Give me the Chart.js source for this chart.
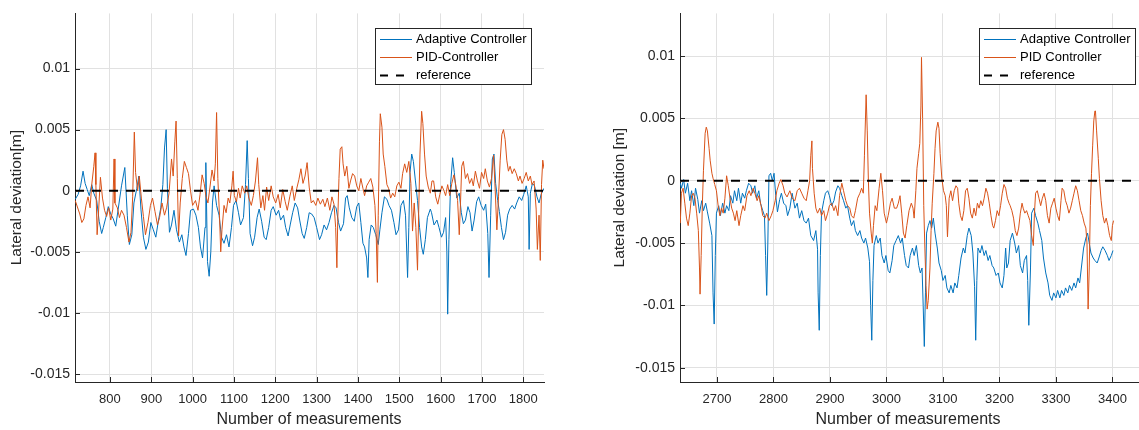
<!DOCTYPE html>
<html>
<head>
<meta charset="utf-8">
<script src="https://cdn.jsdelivr.net/npm/chart.js@4/dist/chart.umd.min.js"></script>
<style>
  html, body { margin: 0; padding: 0; background: #fff; }
  #wrap { position: relative; width: 1139px; height: 430px; overflow: hidden; background: #fff; }
  #wrap canvas { position: absolute; top: 0; }
  #leftPlot { left: 0; }
  #rightPlot { left: 570px; }
</style>
</head>
<body>
<div id="wrap">
  <canvas id="leftPlot" width="570" height="430"></canvas>
  <canvas id="rightPlot" width="580" height="430"></canvas>
</div>
<script>
// ---- measurement data: [measurement index, lateral deviation in m] ----

// first run (measurements ~715-1850)
const adaptiveRun1 = [
  [716,-0.0007],[723,-0.0003],[729,0.0004],[735,0.0016],[740,0.0006],[745,0.0001],[750,-0.0004],[756,0.0005],[761,-0.0002],[768,-0.0008],
  [774,-0.0025],[780,-0.0035],[784,-0.003],[790,-0.0022],[796,-0.0013],[802,-0.0019],[808,-0.0023],[814,-0.0029],[820,-0.0015],[828,0.0004],
  [836,0.0019],[842,-0.002],[847,-0.0044],[853,-0.0036],[858,-0.001],[865,0.0002],[870,0.0012],[875,-0.0015],[881,-0.0038],[887,-0.0048],
  [893,-0.0042],[899,-0.0026],[905,-0.0032],[911,-0.0038],[917,-0.0025],[923,-0.0014],[928,0.0005],[932,0.0035],[936,0.005],[939,0.0002],
  [944,-0.0034],[949,-0.0028],[955,-0.0016],[961,-0.0032],[968,-0.0042],[974,-0.0036],[979,-0.0046],[984,-0.0053],[990,-0.0035],[995,-0.0016],
  [1002,-0.0015],[1008,-0.002],[1014,-0.003],[1019,-0.0046],[1024,-0.0055],[1030,-0.003],[1032,0.0023],[1036,-0.0058],[1040,-0.007],[1044,-0.005],
  [1048,-0.001],[1052,0.0004],[1058,-0.0012],[1064,-0.002],[1070,-0.0038],[1076,-0.0043],[1082,-0.0036],[1088,-0.0046],[1094,-0.003],[1099,-0.0012],
  [1105,-0.0008],[1111,-0.0018],[1116,-0.0028],[1123,-0.0022],[1128,0.0005],[1132,0.0041],[1135,0.001],[1139,-0.0035],[1145,-0.0045],[1150,-0.0038],
  [1156,-0.0022],[1161,-0.0015],[1167,-0.0025],[1173,-0.0038],[1178,-0.004],[1184,-0.003],[1190,-0.0016],[1195,-0.0013],[1202,-0.002],[1208,-0.0016],
  [1213,-0.0024],[1220,-0.002],[1225,-0.003],[1231,-0.0037],[1236,-0.0028],[1242,-0.0018],[1248,-0.001],[1254,-0.0014],[1259,-0.0024],[1265,-0.0035],
  [1270,-0.0039],[1276,-0.003],[1282,-0.0018],[1288,-0.0019],[1294,-0.0022],[1300,-0.003],[1307,-0.004],[1312,-0.0036],[1318,-0.0028],[1324,-0.0032],
  [1330,-0.0026],[1336,-0.0018],[1342,-0.0012],[1347,-0.0014],[1353,-0.0026],[1358,-0.0033],[1365,-0.0027],[1370,-0.0006],[1374,-0.0004],[1379,-0.0014],
  [1385,-0.0022],[1391,-0.0025],[1397,-0.0013],[1402,-0.001],[1407,-0.0026],[1412,-0.0043],[1416,-0.0046],[1421,-0.0055],[1424,-0.0071],[1427,-0.004],
  [1432,-0.0028],[1437,-0.003],[1443,-0.0036],[1449,-0.0044],[1453,-0.0032],[1458,-0.0018],[1464,-0.0005],[1470,-0.0007],[1475,-0.0012],[1481,-0.0016],
  [1487,-0.0026],[1492,-0.0036],[1498,-0.0032],[1504,-0.0012],[1510,-0.0008],[1515,-0.002],[1520,-0.0071],[1523,-0.003],[1526,0.0015],[1530,0.003],
  [1534,0.0024],[1539,0.0008],[1544,-0.0008],[1549,-0.003],[1554,-0.0046],[1558,-0.0052],[1563,-0.004],[1568,-0.0022],[1575,-0.0015],[1578,-0.0018],
  [1584,-0.0028],[1591,-0.0024],[1596,-0.003],[1602,-0.0038],[1607,-0.0034],[1612,-0.0022],[1615,-0.005],[1617,-0.0101],[1620,-0.004],[1624,0.0005],
  [1629,0.0027],[1633,0.0015],[1639,-0.0006],[1645,-0.0002],[1650,-0.0018],[1655,-0.0027],[1660,-0.0024],[1666,-0.0013],[1671,-0.0018],[1676,-0.0033],
  [1681,-0.0024],[1687,-0.0009],[1692,-0.0005],[1698,-0.0012],[1704,-0.0016],[1709,-0.0011],[1714,-0.0035],[1717,-0.0071],[1721,-0.002],[1725,0.0026],
  [1729,0.003],[1733,0.0006],[1738,-0.0008],[1742,-0.0017],[1747,-0.003],[1752,-0.004],[1757,-0.0034],[1762,-0.002],[1767,-0.0015],[1773,-0.0012],
  [1779,-0.0015],[1784,-0.001],[1790,-0.0005],[1796,-0.0008],[1801,-0.0003],[1807,0.0004],[1812,-0.0005],[1814,-0.0048],[1817,-0.0002],[1822,0.0006],
  [1827,0.0004],[1833,-0.0005],[1838,-0.001],[1843,-0.0003],[1850,0.0002]
];

const pidRun1 = [
  [716,-0.0008],[723,-0.0015],[727,-0.0019],[732,-0.0026],[737,-0.0023],[742,-0.0012],[747,-0.0005],[752,-0.0014],[756,0.0005],[761,0.002],
  [764,0.0031],[766,0.0005],[769,-0.0036],[772,-0.002],[777,0.0011],[782,-0.0006],[787,-0.0016],[792,-0.0021],[797,-0.0014],[802,-0.0024],
  [807,-0.0015],[810,0.0026],[812,-0.001],[818,-0.0014],[823,-0.0022],[828,-0.0016],[834,-0.002],[840,-0.003],[846,-0.0042],[851,-0.0034],
  [855,-0.0005],[859,0.0048],[862,0.0015],[867,0],[871,0.0012],[876,-0.0006],[881,-0.0021],[886,-0.0036],[892,-0.0026],[898,-0.0012],
  [903,-0.0006],[909,-0.0017],[915,-0.0028],[920,-0.0022],[926,-0.001],[932,-0.002],[937,-0.0014],[943,-0.0002],[949,0.0026],[953,0.0012],
  [957,0.004],[960,0.0057],[963,0.001],[966,-0.0037],[970,-0.001],[975,0.001],[980,0.0024],[985,0.0019],[990,0.0014],[995,0],
  [1000,-0.0012],[1007,-0.0008],[1013,-0.0016],[1018,-0.0003],[1023,0.0013],[1028,0.0006],[1032,-0.0004],[1037,-0.001],[1042,0.0003],[1047,0.0017],
  [1052,0.0008],[1055,0.0022],[1058,0.0064],[1061,0.001],[1065,-0.002],[1068,-0.005],[1071,-0.0032],[1076,-0.0012],[1081,-0.0018],[1086,-0.0006],
  [1090,-0.001],[1095,0.0004],[1098,0.0016],[1101,-0.0004],[1106,-0.0009],[1111,0.0002],[1115,-0.0006],[1120,0.0004],[1126,-0.0002],[1131,0.0004],
  [1136,-0.0006],[1142,-0.0012],[1147,-0.0004],[1152,0.0008],[1157,0.0027],[1160,0.0005],[1165,-0.0014],[1170,-0.0004],[1174,-0.0016],[1179,0.0003],
  [1184,-0.0008],[1190,0.0004],[1195,-0.0005],[1201,-0.001],[1207,-0.0003],[1212,-0.0014],[1218,0.0001],[1224,-0.0009],[1229,-0.0016],[1235,-0.0005],
  [1241,0.0004],[1246,-0.0008],[1252,0.0002],[1257,0.0009],[1262,0.0018],[1267,0.0006],[1272,0.0012],[1277,0.0023],[1282,0.0003],[1287,-0.001],
  [1292,-0.0008],[1298,-0.0012],[1303,-0.0006],[1309,-0.0011],[1315,-0.0007],[1320,-0.0013],[1326,-0.0006],[1332,-0.0016],[1337,-0.0005],[1342,-0.0011],
  [1346,-0.003],[1349,-0.0063],[1351,-0.0025],[1354,0.001],[1357,0.0034],[1361,0.0036],[1364,0.0022],[1368,0.0012],[1373,0.002],[1378,0.0002],
  [1382,0.0008],[1387,0.0014],[1392,0.0012],[1397,0.0004],[1402,0],[1407,0.001],[1412,0.0002],[1416,-0.0004],[1421,0.0004],[1426,0.0007],
  [1431,0.001],[1436,0.0003],[1441,-0.0012],[1444,-0.0035],[1447,-0.0075],[1449,-0.002],[1452,0.004],[1454,0.0063],[1458,0.0052],[1461,0.003],
  [1465,0.002],[1470,0.0005],[1474,0.0002],[1479,-0.0006],[1484,-0.0002],[1489,-0.0005],[1494,0.0004],[1499,0.0007],[1504,0.0002],[1508,0.0014],
  [1513,0.0022],[1518,0.0015],[1523,0.0024],[1528,0.0006],[1532,-0.0033],[1536,-0.001],[1540,-0.003],[1544,-0.0065],[1547,-0.0015],[1550,0.003],
  [1554,0.0065],[1557,0.0055],[1561,0.003],[1565,0.0012],[1570,0.0003],[1575,-0.0002],[1579,0.0008],[1583,0.0008],[1588,-0.0005],[1593,-0.0011],
  [1598,-0.0003],[1603,0.0004],[1608,0],[1612,-0.0004],[1617,0.0005],[1622,-0.0004],[1627,0.0006],[1632,0.0013],[1637,0.0004],[1641,-0.0008],
  [1645,-0.0036],[1648,-0.001],[1651,0.002],[1655,0.0024],[1660,0.001],[1665,0.0014],[1670,0.0006],[1675,0.001],[1679,0.0004],[1684,0.0016],
  [1689,0.0008],[1694,0.0002],[1699,0.0015],[1704,0.001],[1708,0.0018],[1713,0.0008],[1718,0.0003],[1723,0.001],[1728,0.0029],[1732,0],
  [1736,-0.0032],[1740,-0.0005],[1744,0.0025],[1748,0.0046],[1752,0.005],[1756,0.0042],[1760,0.0025],[1764,0.0016],[1768,0.002],[1773,0.0014],
  [1778,0.0018],[1783,0.0014],[1788,0.0008],[1792,0.0012],[1797,0.0006],[1802,0.001],[1807,0.0015],[1812,0.0008],[1817,0.0012],[1821,0.0005],
  [1826,0.0008],[1831,-0.0015],[1834,-0.0048],[1838,-0.002],[1841,-0.0057],[1844,0.0005],[1847,0.0025],[1850,0.0018]
];

// second run (measurements ~2635-3402)
const adaptiveRun2 = [
  [2635,-0.0002],[2637,-0.0006],[2641,0.0001],[2644,-0.001],[2648,-0.0002],[2652,-0.0016],[2655,-0.0008],[2659,-0.002],[2662,-0.0006],[2666,-0.0015],
  [2669,-0.0026],[2673,-0.0016],[2676,-0.0024],[2680,-0.0018],[2683,-0.0025],[2687,-0.0034],[2691,-0.0044],[2693,-0.009],[2695,-0.0115],[2697,-0.006],
  [2699,-0.0026],[2703,-0.002],[2706,-0.0028],[2710,-0.0018],[2714,-0.0026],[2717,-0.002],[2721,-0.0024],[2724,-0.0012],[2728,-0.0018],[2731,-0.0008],
  [2735,-0.0016],[2738,-0.0006],[2742,-0.0018],[2745,-0.001],[2749,-0.0014],[2752,-0.0008],[2756,-0.0002],[2760,-0.0004],[2763,-0.001],[2767,-0.0004],
  [2770,-0.0014],[2774,-0.0008],[2777,-0.0018],[2781,-0.0024],[2784,-0.0028],[2786,-0.006],[2788,-0.0092],[2790,-0.005],[2792,0.0004],[2795,0.0006],
  [2798,0],[2801,0.0006],[2804,-0.0012],[2807,-0.0025],[2811,-0.0015],[2814,-0.001],[2818,-0.0018],[2822,-0.002],[2825,-0.0028],[2829,-0.0022],
  [2833,-0.001],[2838,-0.0022],[2842,-0.0018],[2846,-0.003],[2850,-0.0024],[2854,-0.0032],[2858,-0.0034],[2862,-0.003],[2866,-0.0044],[2871,-0.0048],
  [2875,-0.004],[2878,-0.0055],[2879,-0.009],[2881,-0.012],[2883,-0.006],[2885,-0.0026],[2889,-0.0016],[2892,-0.001],[2896,-0.0008],[2899,-0.0012],
  [2903,-0.002],[2907,-0.0016],[2910,-0.0009],[2914,-0.0004],[2917,-0.0006],[2921,-0.0012],[2924,-0.0016],[2928,-0.0022],[2931,-0.002],[2935,-0.003],
  [2938,-0.0036],[2942,-0.0032],[2945,-0.004],[2949,-0.0044],[2953,-0.004],[2956,-0.0046],[2960,-0.005],[2963,-0.0046],[2967,-0.0054],[2970,-0.0065],
  [2972,-0.01],[2974,-0.0128],[2976,-0.008],[2978,-0.0052],[2982,-0.0044],[2985,-0.005],[2989,-0.0046],[2992,-0.006],[2996,-0.0066],[2999,-0.006],
  [3003,-0.0072],[3006,-0.0074],[3010,-0.0064],[3013,-0.0052],[3017,-0.0048],[3021,-0.0044],[3025,-0.005],[3028,-0.0046],[3032,-0.006],[3035,-0.0068],
  [3039,-0.007],[3042,-0.006],[3046,-0.0054],[3049,-0.006],[3053,-0.0052],[3057,-0.0068],[3060,-0.0074],[3063,-0.007],[3065,-0.01],[3067,-0.0133],
  [3069,-0.009],[3071,-0.0042],[3074,-0.0036],[3077,-0.0032],[3080,-0.0038],[3083,-0.003],[3086,-0.0042],[3090,-0.0054],[3093,-0.0066],[3097,-0.0072],
  [3100,-0.008],[3104,-0.0076],[3107,-0.0086],[3111,-0.009],[3114,-0.0084],[3118,-0.009],[3121,-0.0082],[3125,-0.0086],[3128,-0.0076],[3132,-0.0062],
  [3136,-0.0054],[3139,-0.0058],[3143,-0.0044],[3146,-0.0038],[3150,-0.0044],[3153,-0.0058],[3156,-0.0085],[3158,-0.0128],[3160,-0.008],[3162,-0.0054],
  [3166,-0.0058],[3169,-0.0052],[3173,-0.006],[3176,-0.0056],[3180,-0.0064],[3183,-0.006],[3187,-0.0068],[3190,-0.007],[3194,-0.0076],[3198,-0.0074],
  [3201,-0.0082],[3205,-0.0086],[3208,-0.0076],[3211,-0.0054],[3213,-0.007],[3216,-0.0066],[3219,-0.0048],[3223,-0.0042],[3227,-0.005],[3230,-0.0058],
  [3234,-0.0052],[3237,-0.0068],[3241,-0.0074],[3244,-0.0064],[3248,-0.006],[3250,-0.008],[3252,-0.0116],[3255,-0.007],[3257,-0.0026],[3261,-0.0022],
  [3264,-0.0028],[3268,-0.0034],[3271,-0.004],[3275,-0.0048],[3278,-0.0062],[3282,-0.0074],[3286,-0.0082],[3289,-0.0092],[3293,-0.0096],[3296,-0.009],
  [3300,-0.0094],[3303,-0.0088],[3307,-0.0094],[3310,-0.0088],[3314,-0.0092],[3317,-0.0086],[3321,-0.009],[3324,-0.0084],[3328,-0.0088],[3332,-0.0082],
  [3335,-0.0086],[3339,-0.0078],[3342,-0.0082],[3346,-0.0066],[3349,-0.0054],[3353,-0.0046],[3356,-0.0042],[3359,-0.005],[3362,-0.0058],[3366,-0.0062],
  [3369,-0.0064],[3373,-0.0066],[3376,-0.0062],[3380,-0.0056],[3383,-0.0053],[3387,-0.0056],[3391,-0.006],[3394,-0.0064],[3398,-0.006],[3401,-0.0056]
];

const pidRun2 = [
  [2635,-0.0034],[2637,-0.001],[2640,-0.0006],[2643,-0.0018],[2646,-0.003],[2649,-0.0036],[2652,-0.0026],[2655,-0.0012],[2658,-0.001],[2661,-0.0014],
  [2664,-0.0026],[2667,-0.004],[2669,-0.007],[2670,-0.0091],[2672,-0.006],[2674,-0.002],[2676,0.0008],[2679,0.0038],[2681,0.0043],[2683,0.004],
  [2686,0.0026],[2688,0.0016],[2691,0.0006],[2693,0.0002],[2696,-0.0003],[2699,-0.0008],[2702,-0.002],[2705,-0.0028],[2708,-0.0022],[2711,-0.0026],
  [2714,-0.0014],[2717,0.0004],[2720,-0.0004],[2723,-0.0014],[2726,-0.0022],[2729,-0.0026],[2732,-0.0032],[2735,-0.0024],[2739,-0.0036],[2742,-0.0028],
  [2746,-0.002],[2749,-0.0024],[2753,-0.0012],[2757,-0.0008],[2760,-0.0012],[2764,-0.0006],[2767,-0.001],[2771,-0.0016],[2774,-0.0012],[2778,-0.002],
  [2781,-0.0028],[2785,-0.003],[2788,-0.0026],[2792,-0.0032],[2796,-0.0028],[2799,-0.0024],[2803,-0.0016],[2806,-0.0008],[2810,-0.0002],[2813,0.0001],
  [2817,-0.0004],[2820,-0.001],[2824,-0.0013],[2829,-0.0008],[2833,-0.0014],[2838,-0.0016],[2842,-0.0008],[2846,-0.0006],[2850,-0.001],[2854,-0.0014],
  [2858,-0.0016],[2861,-0.0008],[2864,0],[2866,0.002],[2868,0.0032],[2869,0.001],[2872,-0.001],[2875,-0.0022],[2878,-0.0026],[2882,-0.0022],
  [2885,-0.0028],[2889,-0.0024],[2892,-0.0032],[2896,-0.0026],[2899,-0.002],[2903,-0.0018],[2907,-0.0024],[2910,-0.002],[2914,-0.0028],[2917,-0.0012],
  [2921,-0.0002],[2924,-0.0008],[2928,-0.0016],[2931,-0.002],[2935,-0.0022],[2938,-0.0028],[2942,-0.003],[2945,-0.0024],[2949,-0.0014],[2953,-0.001],
  [2956,-0.0006],[2959,-0.001],[2961,0.002],[2964,0.0069],[2966,0.004],[2968,0],[2970,-0.0026],[2973,-0.0042],[2975,-0.005],[2977,-0.0036],
  [2980,-0.002],[2983,-0.0024],[2987,-0.0006],[2990,0.0006],[2993,-0.0008],[2996,-0.0026],[3000,-0.0034],[3003,-0.0028],[3007,-0.0018],[3010,-0.0014],
  [3014,-0.0022],[3018,-0.0022],[3021,-0.0018],[3024,-0.0012],[3027,-0.0026],[3030,-0.0042],[3033,-0.0046],[3036,-0.0036],[3040,-0.0024],[3044,-0.0018],
  [3047,-0.0022],[3049,-0.003],[3052,-0.0008],[3054,0.001],[3057,0.0022],[3059,0.003],[3061,0.006],[3062,0.0099],[3064,0.005],[3066,-0.002],
  [3068,-0.0054],[3070,-0.0084],[3072,-0.0103],[3074,-0.0096],[3077,-0.007],[3079,-0.004],[3081,-0.0018],[3084,0.0006],[3086,0.0026],[3088,0.004],
  [3091,0.0047],[3093,0.0042],[3095,0.0022],[3098,0.0002],[3101,-0.0008],[3104,-0.0012],[3106,-0.002],[3108,-0.0045],[3111,-0.0014],[3114,-0.0008],
  [3117,-0.0016],[3120,-0.0008],[3123,-0.0004],[3126,-0.0006],[3128,-0.0018],[3131,-0.0028],[3134,-0.0032],[3137,-0.0024],[3140,-0.0008],[3143,-0.0006],
  [3146,-0.0014],[3149,-0.0026],[3152,-0.003],[3155,-0.0022],[3158,-0.0028],[3161,-0.0018],[3164,-0.0022],[3167,-0.0016],[3170,-0.002],[3173,-0.0014],
  [3176,-0.0006],[3179,-0.001],[3182,-0.0018],[3185,-0.0028],[3188,-0.0036],[3190,-0.0038],[3193,-0.0032],[3196,-0.0024],[3199,-0.0028],[3202,-0.002],
  [3205,-0.001],[3208,-0.0003],[3211,-0.0006],[3214,-0.0014],[3217,-0.0018],[3219,-0.002],[3222,-0.0024],[3225,-0.003],[3228,-0.004],[3231,-0.0044],
  [3234,-0.0038],[3237,-0.0026],[3240,-0.0018],[3242,-0.0022],[3245,-0.0026],[3248,-0.0024],[3251,-0.0028],[3254,-0.0032],[3257,-0.0044],[3260,-0.0052],
  [3262,-0.0026],[3264,-0.001],[3267,-0.0008],[3270,-0.0014],[3273,-0.002],[3276,-0.0014],[3279,-0.001],[3282,-0.0016],[3285,-0.0028],[3288,-0.0034],
  [3291,-0.0022],[3294,-0.0018],[3297,-0.0014],[3300,-0.0022],[3303,-0.0028],[3306,-0.0032],[3309,-0.0016],[3311,-0.0006],[3314,-0.0008],[3317,-0.0016],
  [3320,-0.002],[3323,-0.0026],[3326,-0.0022],[3329,-0.0016],[3332,-0.001],[3335,-0.0004],[3338,-0.0008],[3341,-0.0016],[3344,-0.0024],[3347,-0.0028],
  [3350,-0.0034],[3353,-0.0038],[3355,-0.005],[3357,-0.0103],[3359,-0.007],[3361,-0.002],[3363,0.0006],[3365,0.0028],[3367,0.0048],[3369,0.0056],
  [3370,0.0056],[3372,0.004],[3375,0.0018],[3377,0.0002],[3380,-0.0016],[3383,-0.0028],[3386,-0.0034],[3389,-0.003],[3392,-0.0036],[3395,-0.0044],
  [3398,-0.0048],[3400,-0.0036],[3402,-0.0032]
];

// zero-deviation reference line, spanning each axis
const referenceRun1 = [[715.5, 0], [1850, 0]];
const referenceRun2 = [[2634.5, 0], [3463, 0]];

// axis limits and tick spacing
const xLimitsRun1 = [715.5, 1850];
const xLimitsRun2 = [2634.5, 3463];
const yLimitsRun1 = [-0.01565, 0.01451];
const yLimitsRun2 = [-0.01615, 0.01343];
const xTickStep = 100;
const yTickStep = 0.005;

// text
const legendLabelsRun1 = ['Adaptive Controller', 'PID-Controller', 'reference'];
const legendLabelsRun2 = ['Adaptive Controller', 'PID Controller', 'reference'];
const yTitleRun1 = 'Lateral deviation[m]';
const yTitleRun2 = 'Lateral deviation [m]';
const xTitle = 'Number of measurements';

// ---- styling ----
const FONT = '"Liberation Sans", Arial, Helvetica, sans-serif';
const AXIS_COLOR = '#262626';
const GRID_COLOR = '#e1e1e1';
const BLUE = '#0072BD';
const ORANGE = '#D95319';
const REF_DASH = [9, 8];

const toPoints = pairs => pairs.map(p => ({ x: p[0], y: p[1] }));

// small tick marks pointing into the axes
const inwardTicks = {
  id: 'inwardTicks',
  afterDraw(chart) {
    const { ctx, chartArea: a, scales } = chart;
    ctx.save();
    ctx.strokeStyle = AXIS_COLOR;
    ctx.lineWidth = 1;
    ctx.beginPath();
    scales.x.ticks.forEach(t => {
      const px = Math.round(scales.x.getPixelForValue(t.value)) + 0.5;
      ctx.moveTo(px, a.bottom);
      ctx.lineTo(px, a.bottom - 5);
    });
    scales.y.ticks.forEach(t => {
      const py = Math.round(scales.y.getPixelForValue(t.value)) + 0.5;
      ctx.moveTo(a.left, py);
      ctx.lineTo(a.left + 5, py);
    });
    ctx.stroke();
    ctx.restore();
  }
};

// axis titles
const axisTitles = {
  id: 'axisTitles',
  afterDraw(chart, args, opts) {
    const { ctx, chartArea: a } = chart;
    ctx.save();
    ctx.fillStyle = AXIS_COLOR;
    ctx.textAlign = 'center';
    ctx.textBaseline = 'middle';
    ctx.font = '16px ' + FONT;
    ctx.fillText(opts.x, opts.xTitleCenter, 420);
    ctx.font = '15.5px ' + FONT;
    ctx.translate(opts.yTitleX, (a.top + a.bottom) / 2);
    ctx.rotate(-Math.PI / 2);
    ctx.fillText(opts.y, 0, 0);
    ctx.restore();
  }
};

// boxed legend in the upper right corner of the axes
const boxLegend = {
  id: 'boxLegend',
  afterDraw(chart, args, opts) {
    const { ctx, chartArea: a } = chart;
    const w = 156, h = 56;
    const x0 = a.right - 13 - w;
    const y0 = a.top + 15;
    ctx.save();
    ctx.fillStyle = '#ffffff';
    ctx.fillRect(x0, y0, w, h);
    ctx.strokeStyle = AXIS_COLOR;
    ctx.lineWidth = 1;
    ctx.strokeRect(Math.round(x0) + 0.5, Math.round(y0) + 0.5, w, h);
    const rows = [
      { label: opts.labels[0], color: BLUE, width: 1, dash: [] },
      { label: opts.labels[1], color: ORANGE, width: 1, dash: [] },
      { label: opts.labels[2], color: '#000000', width: 2, dash: [8, 8] }
    ];
    ctx.font = '13px ' + FONT;
    ctx.textBaseline = 'middle';
    ctx.textAlign = 'left';
    rows.forEach((r, i) => {
      const y = y0 + 11 + i * 17.7;
      ctx.beginPath();
      ctx.strokeStyle = r.color;
      ctx.lineWidth = r.width;
      ctx.setLineDash(r.dash);
      ctx.moveTo(x0 + 5, Math.round(y) + 0.5);
      ctx.lineTo(x0 + 37, Math.round(y) + 0.5);
      ctx.stroke();
      ctx.setLineDash([]);
      ctx.fillStyle = '#000000';
      ctx.fillText(r.label, x0 + 41, y + 0.5);
    });
    ctx.restore();
  }
};

function buildPanel(canvasId, cfg) {
  return new Chart(document.getElementById(canvasId), {
    type: 'line',
    data: {
      datasets: [
        { label: cfg.legend[2], data: toPoints(cfg.reference), borderColor: '#000000',
          borderWidth: 2, borderDash: REF_DASH, order: 0 },
        { label: cfg.legend[1], data: toPoints(cfg.pid), borderColor: ORANGE,
          borderWidth: 1, order: 1 },
        { label: cfg.legend[0], data: toPoints(cfg.adaptive), borderColor: BLUE,
          borderWidth: 1, order: 2 }
      ]
    },
    options: {
      responsive: false,
      animation: false,
      devicePixelRatio: 1,
      events: [],
      layout: { padding: { left: 0, top: 12, right: cfg.padRight, bottom: 0 } },
      elements: {
        point: { radius: 0 },
        line: { tension: 0, fill: false, borderJoinStyle: 'round' }
      },
      plugins: {
        legend: { display: false },
        tooltip: { enabled: false },
        axisTitles: { x: xTitle, y: cfg.yTitle, yTitleX: cfg.yTitleX, xTitleCenter: cfg.xTitleCenter },
        boxLegend: { labels: cfg.legend }
      },
      scales: {
        x: {
          type: 'linear',
          min: cfg.xLim[0], max: cfg.xLim[1],
          afterFit: s => { s.height = 48; },
          border: { color: AXIS_COLOR, width: 1 },
          grid: { color: GRID_COLOR, drawTicks: false, lineWidth: 1 },
          ticks: {
            stepSize: xTickStep, includeBounds: false, autoSkip: false, maxRotation: 0,
            padding: 10, color: AXIS_COLOR, font: { family: FONT, size: 13 },
            callback: v => String(v)
          }
        },
        y: {
          type: 'linear',
          min: cfg.yLim[0], max: cfg.yLim[1],
          afterFit: s => { s.width = cfg.yAxisWidth; },
          border: { color: AXIS_COLOR, width: 1 },
          grid: { color: GRID_COLOR, drawTicks: false, lineWidth: 1 },
          ticks: {
            stepSize: yTickStep, includeBounds: false, autoSkip: false,
            padding: 5, color: AXIS_COLOR, font: { family: FONT, size: 14 },
            callback: v => String(Math.round(v * 10000) / 10000)
          }
        }
      }
    },
    plugins: [inwardTicks, axisTitles, boxLegend]
  });
}

buildPanel('leftPlot', {
  adaptive: adaptiveRun1, pid: pidRun1, reference: referenceRun1,
  xLim: xLimitsRun1, yLim: yLimitsRun1,
  legend: legendLabelsRun1, yTitle: yTitleRun1, yTitleX: 17, xTitleCenter: 309,
  yAxisWidth: 75, padRight: 26
});

buildPanel('rightPlot', {
  adaptive: adaptiveRun2, pid: pidRun2, reference: referenceRun2,
  xLim: xLimitsRun2, yLim: yLimitsRun2,
  legend: legendLabelsRun2, yTitle: yTitleRun2, yTitleX: 50, xTitleCenter: 338,
  yAxisWidth: 110, padRight: 2
});
</script>
</body>
</html>
